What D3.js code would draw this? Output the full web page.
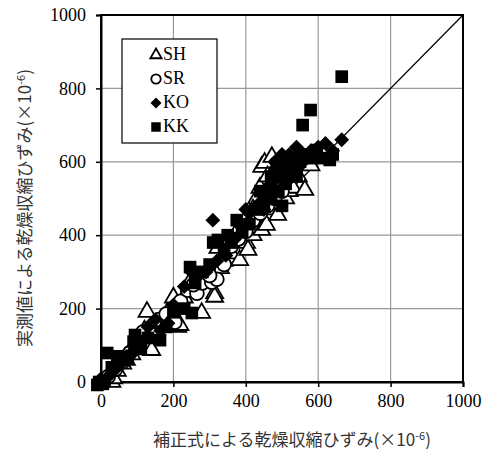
<!DOCTYPE html>
<html lang="ja">
<head>
<meta charset="UTF-8">
<title>乾燥収縮ひずみ</title>
<style>
  body { margin: 0; background: #fff; }
  svg { display: block; }
</style>
</head>
<body>
<div id="chart"></div>
<script src="https://d3js.org/d3.v7.min.js"></script>
<script>
// tick values for both axes
const ticks = [0, 200, 400, 600, 800, 1000];

const SH = [[0,0],[30,0],[35,10],[45,30],[60,50],[70,60],[85,75],[100,100],[110,120],[120,140],
  [127,191],[135,93],[140,87],[150,150],[170,160],[190,200],[212,150],[218,155],[230,230],[245,260],
  [260,290],[278,188],[290,280],[300,300],[314,242],[314,232],[323,365],[340,330],[360,350],[383,332],
  [402,379],[406,360],[420,400],[433,420],[439,529],[444,414],[444,586],[452,597],[457,428],[457,518],
  [465,470],[472,613],[475,569],[480,540],[488,455],[499,605],[510,500],[520,520],[530,529],[545,560],
  [563,523],[571,605],[580,590],[460,560],[430,500],[200,230],[250,280],[370,400],[330,310],[420,470]];
const SR = [[5,5],[20,15],[40,35],[60,55],[80,80],[95,100],[116,136],[140,130],[160,170],[180,185],
  [196,163],[204,163],[220,220],[240,250],[265,242],[280,270],[306,272],[320,280],[340,320],[360,370],
  [380,390],[400,410],[420,440],[440,460],[460,480],[480,500],[500,520],[520,560],[540,590],[560,610],
  [590,620],[255,265],[300,290]];
const KO = [[0,5],[15,10],[30,25],[50,45],[70,70],[90,85],[110,110],[130,150],[150,170],[165,140],
  [185,160],[200,210],[230,260],[250,300],[270,290],[290,300],[309,441],[320,330],[345,345],[370,390],
  [390,420],[410,460],[430,480],[450,500],[470,540],[490,560],[510,590],[520,620],[540,640],[560,620],
  [580,630],[600,640],[620,650],[640,630],[665,660],[480,600],[500,620],[450,470],[400,470],[530,590],
  [-8,-5],[460,530],[520,570],[550,620]];
const KK = [[-5,0],[10,5],[17,79],[30,40],[45,70],[60,60],[74,65],[90,110],[94,128],[110,90],
  [130,120],[163,114],[180,150],[200,190],[230,200],[246,313],[251,188],[260,270],[280,300],[300,320],
  [323,387],[340,360],[360,380],[375,441],[390,410],[410,430],[430,470],[450,480],[470,500],[490,520],
  [500,560],[520,600],[540,580],[557,700],[560,620],[579,741],[596,632],[610,610],[632,605],[640,620],
  [665,832],[470,560],[510,540],[530,610],[490,590],[550,600],[310,380],[350,400],[440,520],[500,480],
  [-10,-8],[5,-5],[460,500],[480,570],[520,580],[540,560],[580,610]];

const width = 489, height = 450;
const margin = {left: 101, right: 26, top: 15, bottom: 68};
const serif = '"Liberation Serif", "Times New Roman", serif';
const sans = '"Noto Sans CJK JP", sans-serif';

const svg = d3.select("#chart").append("svg")
  .attr("width", width).attr("height", height);

const x = d3.scaleLinear().domain([0, 1000]).range([margin.left, width - margin.right]);
const y = d3.scaleLinear().domain([0, 1000]).range([height - margin.bottom, margin.top]);

// grid
svg.append("g").selectAll("line").data(ticks.slice(1, -1)).join("line")
  .attr("x1", d => x(d)).attr("x2", d => x(d))
  .attr("y1", y(0)).attr("y2", y(1000))
  .attr("stroke", "#999").attr("stroke-width", 1.2);
svg.append("g").selectAll("line").data(ticks.slice(1, -1)).join("line")
  .attr("y1", d => y(d)).attr("y2", d => y(d))
  .attr("x1", x(0)).attr("x2", x(1000))
  .attr("stroke", "#999").attr("stroke-width", 1.2);

// frame
svg.append("rect")
  .attr("x", x(0)).attr("y", y(1000))
  .attr("width", x(1000) - x(0)).attr("height", y(0) - y(1000))
  .attr("fill", "none").attr("stroke", "#000").attr("stroke-width", 2);

// axes
const xAxis = svg.append("g")
  .attr("transform", `translate(0,${y(0)})`)
  .call(d3.axisBottom(x).tickValues(ticks).tickFormat(d3.format("d")).tickSize(5).tickPadding(7));
const yAxis = svg.append("g")
  .attr("transform", `translate(${x(0)},0)`)
  .call(d3.axisLeft(y).tickValues(ticks).tickFormat(d3.format("d")).tickSize(5).tickPadding(10));
[xAxis, yAxis].forEach(a => {
  a.attr("font-family", serif).attr("font-size", 18);
  a.select(".domain").attr("stroke", "#000").attr("stroke-width", 2);
  a.selectAll(".tick line").attr("stroke", "#000").attr("stroke-width", 1.5);
  a.selectAll(".tick text").attr("fill", "#000");
});

// y = x line
svg.append("line")
  .attr("x1", x(0)).attr("y1", y(0)).attr("x2", x(1000)).attr("y2", y(1000))
  .attr("stroke", "#000").attr("stroke-width", 1.2);

const series = [
  {name: "SH", data: SH, type: d3.symbolTriangle, size: 125, fill: "#fff", rot: 0},
  {name: "SR", data: SR, type: d3.symbolCircle, size: 150, fill: "#fff", rot: 0},
  {name: "KO", data: KO, type: d3.symbolSquare, size: 110, fill: "#000", rot: 45},
  {name: "KK", data: KK, type: d3.symbolSquare, size: 160, fill: "#000", rot: 0}
];

series.forEach(s => {
  svg.append("g").selectAll("path").data(s.data).join("path")
    .attr("d", d3.symbol().type(s.type).size(s.size))
    .attr("transform", d => `translate(${x(d[0])},${y(d[1])}) rotate(${s.rot})`)
    .attr("fill", s.fill)
    .attr("stroke", "#000")
    .attr("stroke-width", s.fill === "#fff" ? 1.8 : 0);
});

// legend
const lg = svg.append("g");
lg.append("rect").attr("x", 122).attr("y", 39).attr("width", 95).attr("height", 104)
  .attr("fill", "#fff").attr("stroke", "#000").attr("stroke-width", 1.2);
const lsize = {SH: 55, SR: 70, KO: 60, KK: 90};
series.forEach((s, i) => {
  const cy = 54 + i * 24;
  lg.append("path")
    .attr("d", d3.symbol().type(s.type).size(lsize[s.name]))
    .attr("transform", `translate(156,${cy + 1}) rotate(${s.rot})`)
    .attr("fill", s.fill).attr("stroke", "#000")
    .attr("stroke-width", s.fill === "#fff" ? 1.8 : 0);
  lg.append("text").attr("x", 163).attr("y", cy).attr("dy", "0.35em")
    .attr("font-family", serif).attr("font-size", 18).text(s.name);
});

// axis titles
const xt = svg.append("text")
  .attr("font-family", sans).attr("font-size", 17).attr("fill", "#333")
  .attr("x", 292).attr("y", 446).attr("text-anchor", "middle");
xt.append("tspan").text("補正式による乾燥収縮ひずみ(×10");
xt.append("tspan").attr("font-size", 11).attr("dy", -6).text("-6");
xt.append("tspan").attr("dy", 6).text(")");

const yt = svg.append("text")
  .attr("font-family", sans).attr("font-size", 17).attr("fill", "#333")
  .attr("transform", "translate(25,208) rotate(-90)")
  .attr("text-anchor", "middle").attr("dy", "0.35em");
yt.append("tspan").text("実測値による乾燥収縮ひずみ(×10");
yt.append("tspan").attr("font-size", 11).attr("dy", -6).text("-6");
yt.append("tspan").attr("dy", 6).text(")");
</script>
</body>
</html>
